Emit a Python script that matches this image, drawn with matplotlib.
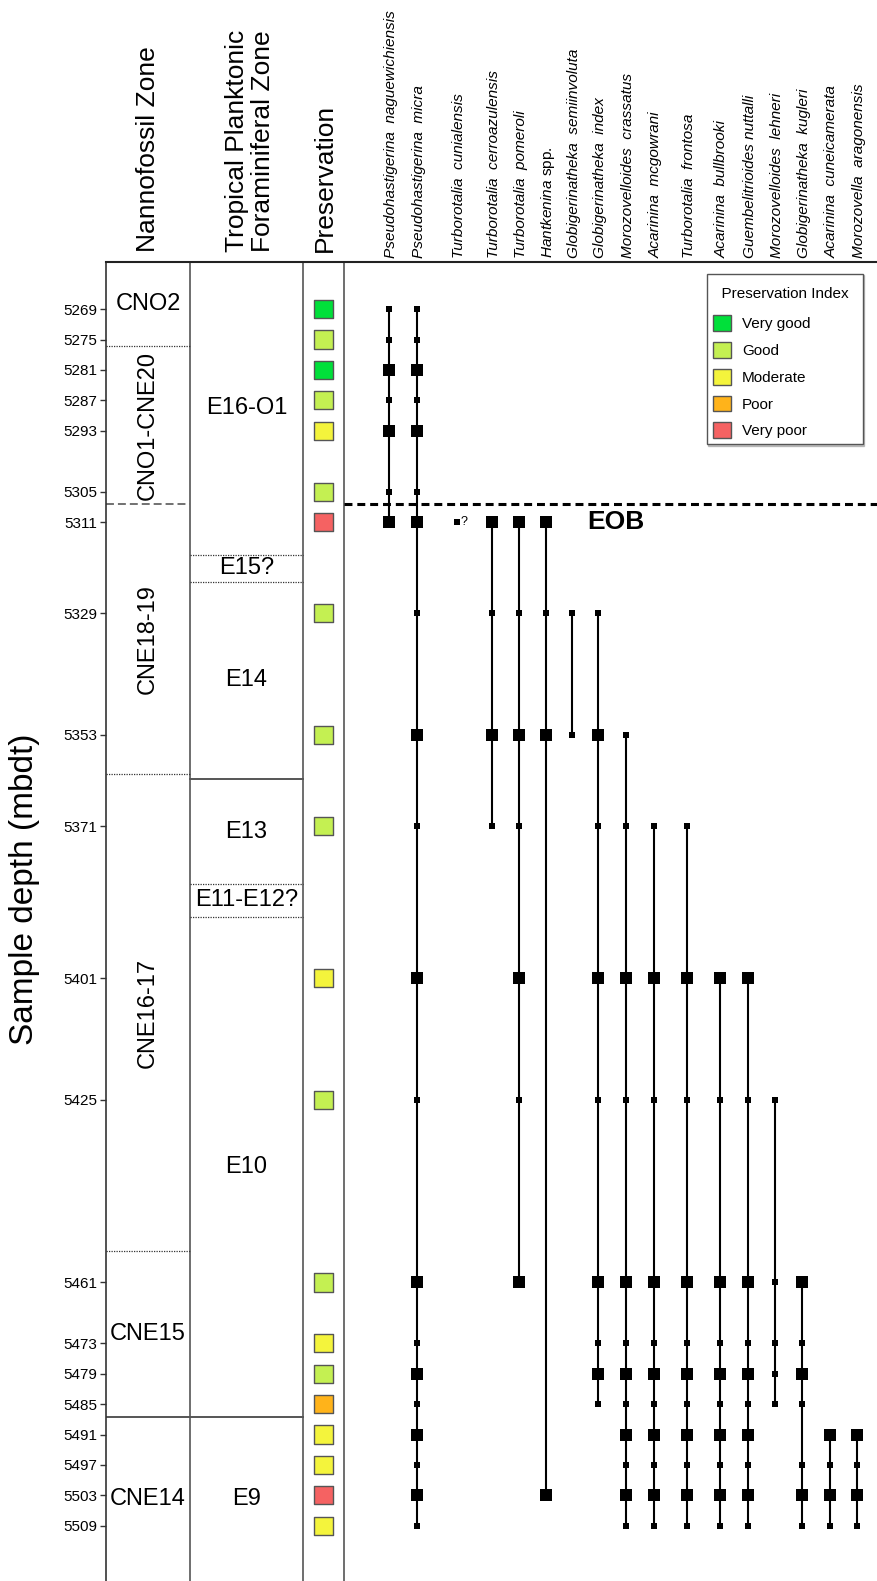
import numpy as np
import matplotlib
matplotlib.use("Agg")
import matplotlib.pyplot as plt
from matplotlib.patches import Patch

plt.rcParams["font.family"] = "Liberation Sans"
plt.rcParams["mathtext.fontset"] = "custom"
plt.rcParams["mathtext.it"] = "Liberation Sans:italic"
plt.rcParams["mathtext.rm"] = "Liberation Sans"

## sample depths (mbdt) and preservation of each sample
samples = [5269, 5275, 5281, 5287, 5293, 5305, 5311, 5329, 5353, 5371,
           5401, 5425, 5461, 5473, 5479, 5485, 5491, 5497, 5503, 5509]
preservation = ["Very good", "Good", "Very good", "Good", "Moderate", "Good",
                "Very poor", "Good", "Good", "Good", "Moderate", "Good", "Good",
                "Moderate", "Good", "Poor", "Moderate", "Moderate", "Very poor",
                "Moderate"]
pres_classes = ["Very good", "Good", "Moderate", "Poor", "Very poor"]
pres_colors = ["#00e03a", "#c4f052", "#f4f43c", "#ffb31a", "#f56262"]

## species and occurrences, one char per sample: L = common, s = rare, . = absent
species = ["Pseudohastigerina  naguewichiensis", "Pseudohastigerina  micra",
           "Turborotalia  cunialensis", "Turborotalia  cerroazulensis",
           "Turborotalia  pomeroli", r"$\mathit{Hantkenina}$ spp.",
           "Globigerinatheka  semiinvoluta", "Globigerinatheka  index",
           "Morozovelloides  crassatus", "Acarinina  mcgowrani",
           "Turborotalia  frontosa", "Acarinina  bullbrooki",
           "Guembelitrioides nuttalli", "Morozovelloides  lehneri",
           "Globigerinatheka  kugleri", "Acarinina  cuneicamerata",
           "Morozovella  aragonensis"]
occurrences = ["ssLsLsL.............",
               "ssLsLsLsLsLsLsLsLsLs",
               "......s.............",
               "......LsLs..........",
               "......LsLsLsL.......",
               "......LsL.........L.",
               ".......ss...........",
               ".......sLsLsLsLs....",
               "........ssLsLsLsLsLs",
               ".........sLsLsLsLsLs",
               ".........sLsLsLsLsLs",
               "..........LsLsLsLsLs",
               "..........LsLsLsLsLs",
               "...........sssss....",
               "............LsLs.sLs",
               "................LsLs",
               "................LsLs"]
uncertain = ["Turborotalia  cunialensis"]

## biozones
eob_depth = 5307.5
nanno_zones = ["CNO2", "CNO1-CNE20", "CNE18-19", "CNE16-17", "CNE15", "CNE14"]
nanno_bounds = [5276.3, eob_depth, 5360.7, 5454.8, 5487.5]
nanno_kinds = ["approx", "eob", "approx", "approx", "firm"]
foram_zones = ["E16-O1", "E15?", "E14", "E13", "E11-E12?", "E10", "E9"]
foram_bounds = [5317.5, 5322.8, 5361.7, 5382.4, 5388.9, 5487.5]
foram_kinds = ["approx", "approx", "firm", "approx", "approx", "firm"]

## layout, x in pixels
W, H = 877, 1581
left_px, top_px = 106, 262
col_edges = [190, 303, 344]
nanno_x, foram_x, pres_x = 148, 246.5, 323.5
species_x = [389, 417, 457, 492, 519, 546, 572, 598, 626, 654, 687,
             720, 748, 775, 802, 830, 857]
d_top, d_bot = 5259.7, 5519.9

fig = plt.figure(figsize=(W / 100, H / 100), dpi=100)
ax = fig.add_axes([left_px / W, 0, 1 - left_px / W, 1 - top_px / H])
ax.set_xlim(left_px, W)
ax.set_ylim(d_bot, d_top)
for s in ["right", "bottom"]:
    ax.spines[s].set_visible(False)
ax.spines["left"].set_color("#333333")
ax.spines["left"].set_linewidth(1.2)
ax.spines["top"].set_color("#222222")
ax.spines["top"].set_linewidth(1.5)
ax.set_xticks([])
ax.set_yticks(samples)
ax.set_yticklabels([str(d) for d in samples], fontsize=11)
ax.tick_params(axis="y", length=4.5, width=1, pad=1.5, color="#333333")

for x in col_edges:
    ax.axvline(x, color="#6e6e6e", lw=1.4, zorder=1)

## zone columns
bound_style = {
    "approx": dict(color="#333333", lw=0.9, ls=(0, (1, 1))),
    "eob": dict(color="#666666", lw=1.3, ls=(0, (4.4, 2.2))),
    "firm": dict(color="#555555", lw=1.4, ls="-"),
}

def draw_zones(names, bounds, kinds, x0, x1, xc, rotate_long):
    for b, k in zip(bounds, kinds):
        ax.plot([x0, x1], [b, b], zorder=2, **bound_style[k])
    edges = [d_top] + bounds + [d_bot]
    for i, name in enumerate(names):
        mid = (edges[i] + edges[i + 1]) / 2
        rot = 90 if (rotate_long and len(name) > 5) else 0
        ax.text(xc, mid, name, fontsize=17, rotation=rot,
                ha="center", va="center")

draw_zones(nanno_zones, nanno_bounds, nanno_kinds, left_px, col_edges[0], nanno_x, True)
draw_zones(foram_zones, foram_bounds, foram_kinds, col_edges[0], col_edges[1], foram_x, False)

## preservation squares
color_of = dict(zip(pres_classes, pres_colors))
ax.scatter([pres_x] * len(samples), samples, marker="s", s=172,
           c=[color_of[p] for p in preservation], edgecolors="#555555",
           linewidths=1, zorder=3)

## range chart
for x, name, code in zip(species_x, species, occurrences):
    common = [d for d, c in zip(samples, code) if c == "L"]
    rare = [d for d, c in zip(samples, code) if c == "s"]
    found = common + rare
    if len(found) > 1:
        ax.plot([x, x], [min(found), max(found)], color="k", lw=1.5,
                solid_capstyle="butt", zorder=3)
    ax.plot([x] * len(common), common, "s", ms=9, mfc="k", mew=0, zorder=4)
    ax.plot([x] * len(rare), rare, "s", ms=4, mfc="k", mew=0, zorder=4)
    if name in uncertain:
        ax.text(x + 4, found[0], "?", fontsize=9, ha="left", va="center")
    style = "normal" if name.startswith("$") else "italic"
    ax.text(x + 2, 1.003, name, transform=ax.get_xaxis_transform(),
            rotation=90, ha="center", va="bottom", fontsize=11.1,
            style=style, clip_on=False)

## Eocene-Oligocene boundary
ax.plot([col_edges[2], W], [eob_depth, eob_depth], color="k", lw=2.2,
        dashes=(2.6, 1.6), zorder=5, clip_on=False)
ax.text(587, 5311, "EOB", fontsize=19, fontweight="bold", ha="left", va="center")

## column headers
hdr = dict(transform=ax.get_xaxis_transform(), rotation=90, ha="center",
           va="bottom", fontsize=19, clip_on=False)
ax.text(nanno_x, 1.0076, "Nannofossil Zone", **hdr)
ax.text(250, 1.0076, "Tropical Planktonic\nForaminiferal Zone",
        multialignment="left", linespacing=1.12, **hdr)
ax.text(325, 1.0076, "Preservation", **hdr)

fig.text(25 / W, 1 - 889 / H, "Sample depth (mbdt)", rotation=90,
         fontsize=24, ha="center", va="center")

handles = [Patch(facecolor=c, edgecolor="#555555", lw=1) for c in pres_colors]
leg = fig.legend(handles, pres_classes, title="  Preservation Index  ",
                 loc="upper right", bbox_to_anchor=(863 / W, 1 - 274 / H),
                 fontsize=11, title_fontsize=11, fancybox=False,
                 edgecolor="#555555", framealpha=1, borderaxespad=0,
                 borderpad=0.4, handlelength=1.2, handleheight=1.2,
                 labelspacing=0.70, handletextpad=0.7, alignment="left",
                 shadow={"ox": 1, "oy": -1, "shade": 0.45})
leg.get_frame().set_linewidth(1)
# extra room between the title and the entries
leg._legend_box.sep = 15.4
leg.get_title().set_position((0, -6.5))

fig.savefig("out.png", dpi=100)
